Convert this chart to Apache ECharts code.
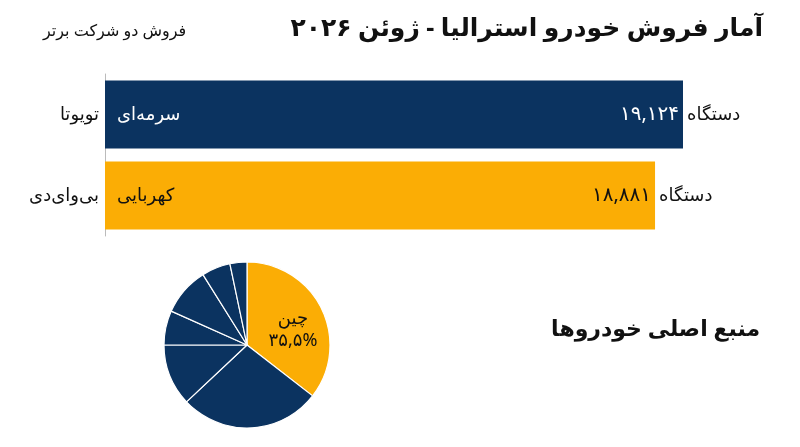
<!DOCTYPE html>
<html><head><meta charset="utf-8">
<script src="https://cdn.jsdelivr.net/npm/echarts@6/dist/echarts.min.js"></script>
<style>html,body{margin:0;padding:0;background:#fff}#c{width:800px;height:447px}</style>
</head><body><div id="c"></div>
<script>
const companies = ['تویوتا', 'بی‌وای‌دی'];
const colorNames = ['سرمه‌ای', 'کهربایی'];
const sales = [19124, 18881];
const pieNames = ['چین', 'ژاپن', 'کره جنوبی', 'تایلند', 'آلمان', 'آمریکا', 'سایر'];
const pieValues = [35.5, 27.5, 12, 6.7, 9.4, 5.6, 3.3];
const NAVY = '#0b3360', AMBER = '#fbad05';
const fa = s => String(s).replace(/\d/g, d => '۰۱۲۳۴۵۶۷۸۹'[d]);
const FONT = "'Noto Sans','DejaVu Sans',sans-serif";
const chart = echarts.init(document.getElementById('c'));
chart.setOption({
  animation: false,
  textStyle: {fontFamily: FONT},
  title: [
    {text: 'آمار فروش خودرو استرالیا - ژوئن ۲۰۲۶', right: 32, top: 11,
     textStyle: {fontSize: 25, fontWeight: 'bold', color: '#111', fontFamily: FONT}},
    {text: 'فروش دو شرکت برتر', left: 38, top: 18,
     textStyle: {fontSize: 16, fontWeight: 'normal', color: '#111', fontFamily: FONT}},
    {text: 'منبع اصلی خودروها', right: 35, top: 314,
     textStyle: {fontSize: 22, fontWeight: 'bold', color: '#111', fontFamily: FONT}}
  ],
  grid: {left: 105, width: 578, top: 74, height: 162},
  xAxis: {type: 'value', min: 14100, max: 19124, show: false},
  yAxis: {type: 'category', data: companies, inverse: true,
    axisLine: {show: true, lineStyle: {color: '#bbb'}}, axisTick: {show: false},
    axisLabel: {fontSize: 18, color: '#111', margin: 6, fontFamily: FONT}},
  series: [
    {type: 'bar', barCategoryGap: '16%',
     data: sales.map((v, i) => ({value: v, itemStyle: {color: i ? AMBER : NAVY},
       label: {color: i ? '#111' : '#fff'}})),
     label: {show: true, position: 'insideRight', distance: 4, fontSize: 20,
       formatter: p => fa(p.value.toLocaleString('en-US'))},
     z: 2},
    {type: 'bar', barGap: '-100%', barCategoryGap: '16%', silent: true,
     data: sales.map((v, i) => ({value: v, itemStyle: {color: 'transparent'},
       label: {color: i ? '#111' : '#fff'}})),
     label: {show: true, position: 'insideLeft', distance: 12, fontSize: 18,
       formatter: p => colorNames[p.dataIndex], fontFamily: FONT}},
    {type: 'bar', barGap: '-100%', silent: true,
     data: sales.map(v => ({value: v, itemStyle: {color: 'transparent'}})),
     label: {show: true, position: 'right', distance: 4, fontSize: 18, color: '#111',
       formatter: 'دستگاه', fontFamily: FONT}},
    {type: 'pie', center: [247, 345], radius: [0, 83], startAngle: 90, clockwise: true,
     silent: true,
     data: pieValues.map((v, i) => ({name: pieNames[i], value: v,
       itemStyle: {color: i ? NAVY : AMBER, borderColor: '#fff', borderWidth: 1.2},
       label: i ? {show: false} : {show: true, position: 'inner', offset: [6, 4],
         formatter: p => 'چین\n' + fa(String(p.value).replace('.', ',')) + '%',
         fontSize: 18, color: '#111', lineHeight: 22, fontFamily: FONT}})),
     labelLine: {show: false}}
  ]
});
</script></body></html>
